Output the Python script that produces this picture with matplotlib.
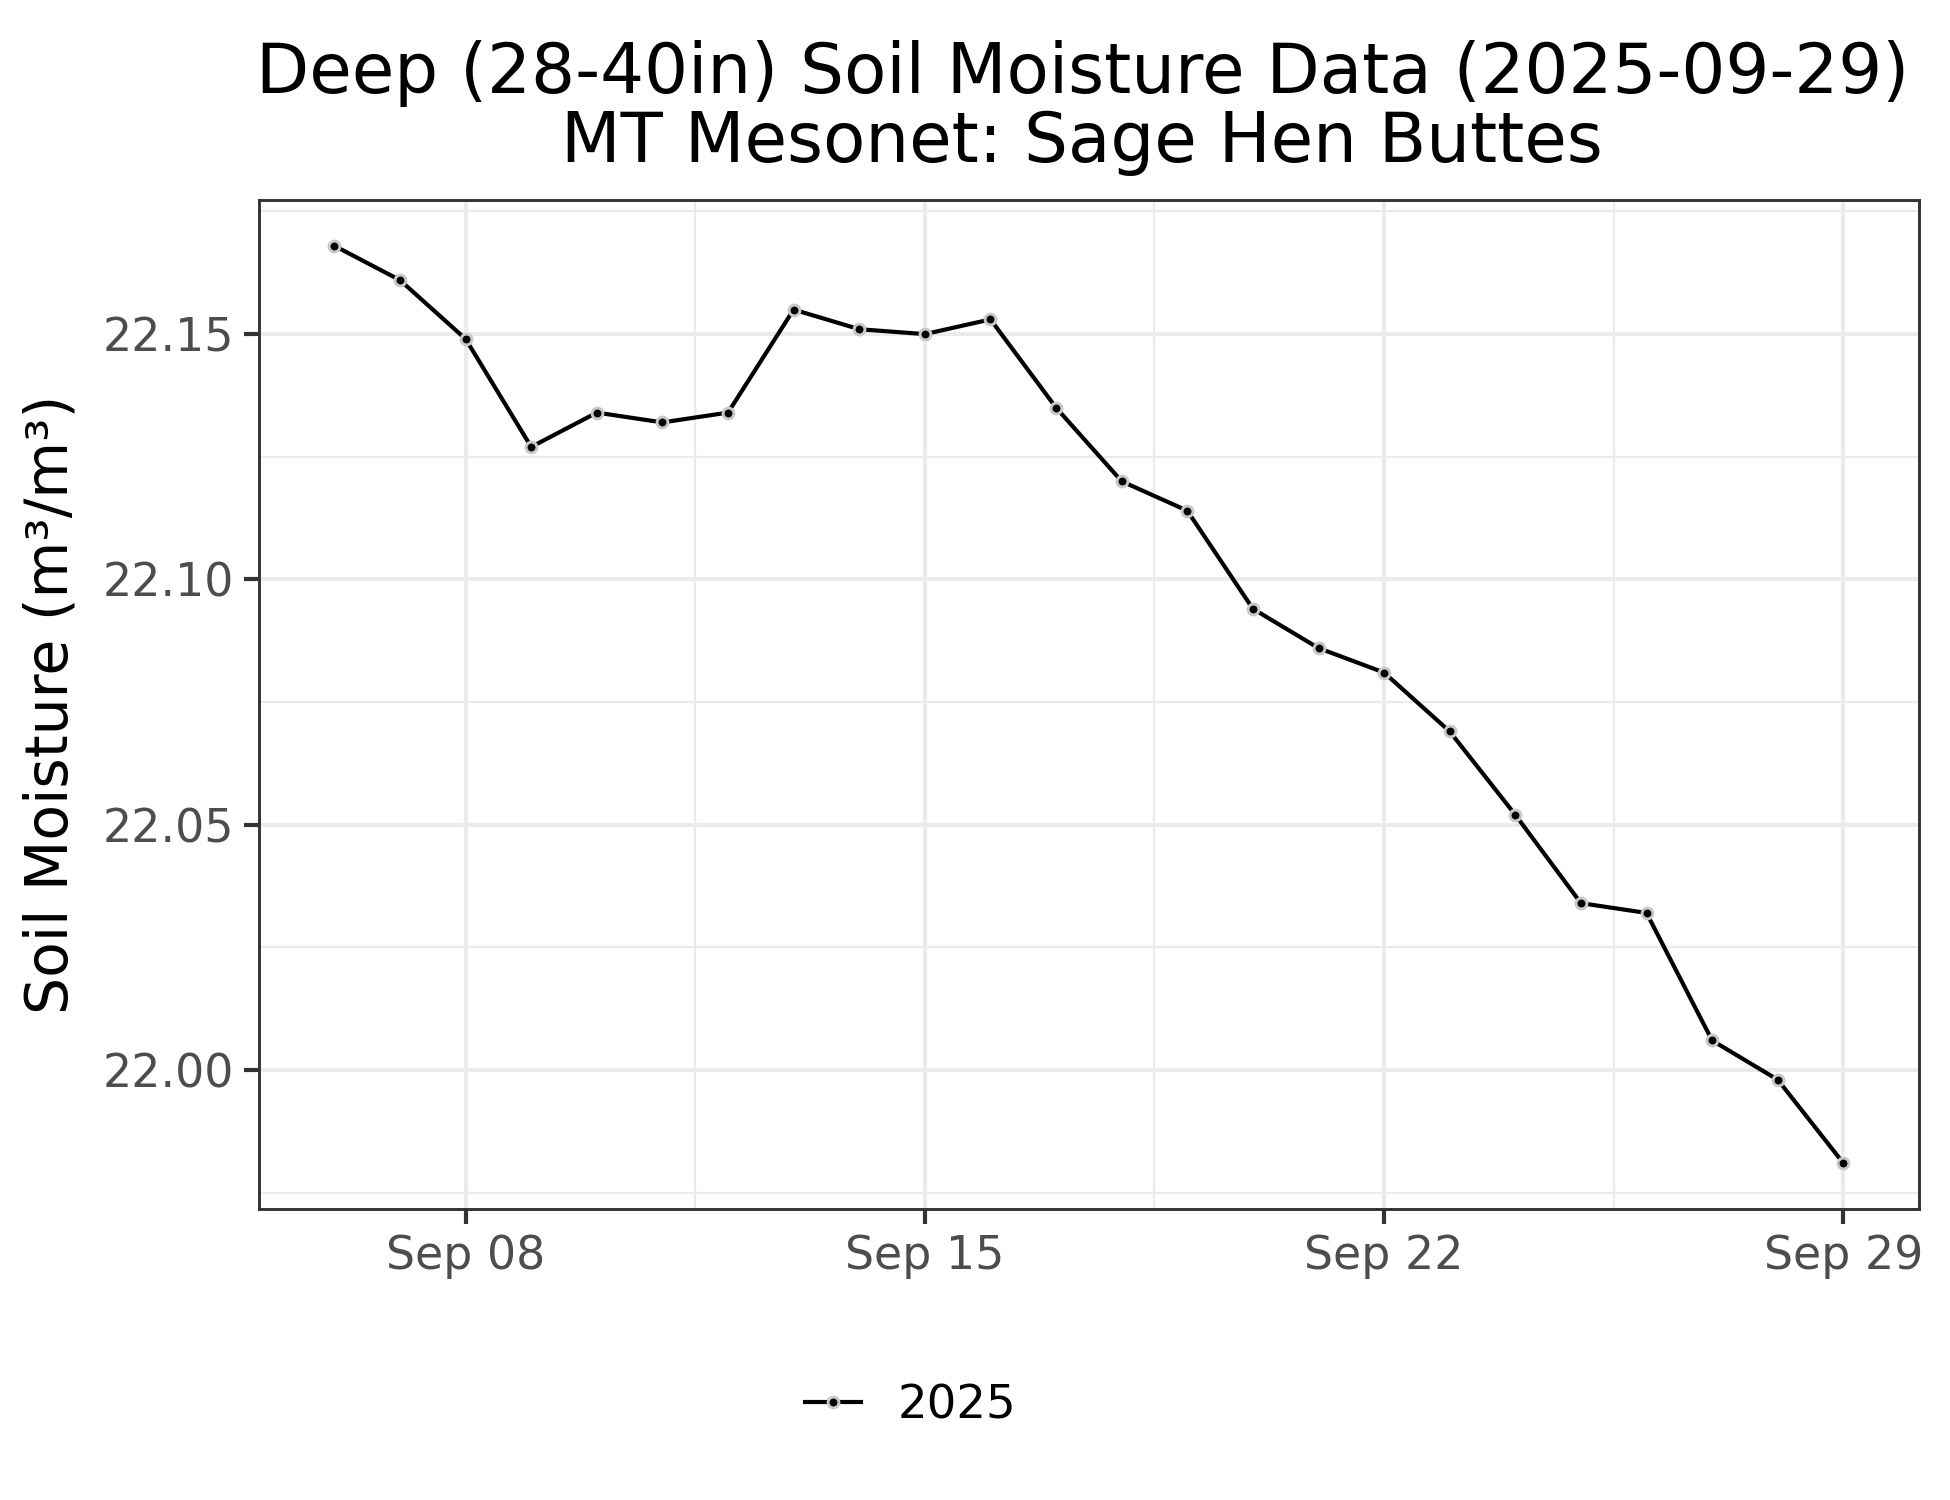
import matplotlib
matplotlib.use("Agg")
import matplotlib.pyplot as plt
import matplotlib.dates as mdates
import numpy as np
import datetime as dt

dates = [dt.datetime(2025, 9, d) for d in range(6, 30)]
moisture = [22.168, 22.161, 22.149, 22.127, 22.134, 22.132, 22.134, 22.155,
            22.151, 22.150, 22.153, 22.135, 22.120, 22.114, 22.094, 22.086,
            22.081, 22.069, 22.052, 22.034, 22.032, 22.006, 21.998, 21.981]
series_label = "2025"
title = "Deep (28-40in) Soil Moisture Data (2025-09-29)\nMT Mesonet: Sage Hen Buttes"
ylabel = "Soil Moisture (m³/m³)"
xticks = [dt.datetime(2025, 9, d) for d in (8, 15, 22, 29)]
yticks = [22.00, 22.05, 22.10, 22.15]

plt.rcParams['font.family'] = ['DejaVu Sans']
fig = plt.figure(figsize=(6.5, 5), dpi=300)
ax = fig.add_axes([0.1328, 0.194, 0.984 - 0.1328, 0.8667 - 0.194])

ax.plot(dates, moisture, color='black', lw=1.0, marker='o', markersize=2.6,
        markerfacecolor='black', markeredgecolor='#c8c8c8', markeredgewidth=0.7,
        label=series_label, zorder=3)

ax.set_xticks([mdates.date2num(t) for t in xticks])
ax.xaxis.set_major_formatter(mdates.DateFormatter('%b %d'))
xminor = [mdates.date2num(t) - 3.5 for t in xticks] + [mdates.date2num(xticks[-1]) + 3.5]
ax.set_xticks(xminor, minor=True)
ax.set_yticks(yticks)
ax.set_yticklabels([f"{v:.2f}" for v in yticks])
ax.set_yticks([v - 0.025 for v in yticks] + [yticks[-1] + 0.025], minor=True)

x0 = mdates.date2num(dates[0]); x1 = mdates.date2num(dates[-1])
xr = x1 - x0
ax.set_xlim(x0 - 0.05 * xr, x1 + 0.05 * xr)
ymin, ymax = min(moisture), max(moisture)
yr = ymax - ymin
ax.set_ylim(ymin - 0.05 * yr, ymax + 0.05 * yr)

ax.grid(which='major', color='#EBEBEB', lw=1.0, zorder=0)
ax.grid(which='minor', color='#EBEBEB', lw=0.55, zorder=0)
ax.set_axisbelow(True)
ax.tick_params(which='major', length=3.5, width=1.0, color='#333333',
               labelsize=11.0, labelcolor='#4D4D4D', pad=2.5)
ax.tick_params(which='minor', length=0)
for s in ax.spines.values():
    s.set_color('#333333')
    s.set_linewidth(0.7)

ax.set_ylabel(ylabel, fontsize=14, labelpad=5.5)
ax.set_title(title, fontsize=16.6, pad=9, linespacing=1.05, x=0.496)

fig.legend(loc='center', bbox_to_anchor=(0.467, 0.0627), frameon=False,
           fontsize=11.2, handlelength=1.2, handletextpad=0.8)

fig.savefig('out.png', dpi=300, facecolor='white')
